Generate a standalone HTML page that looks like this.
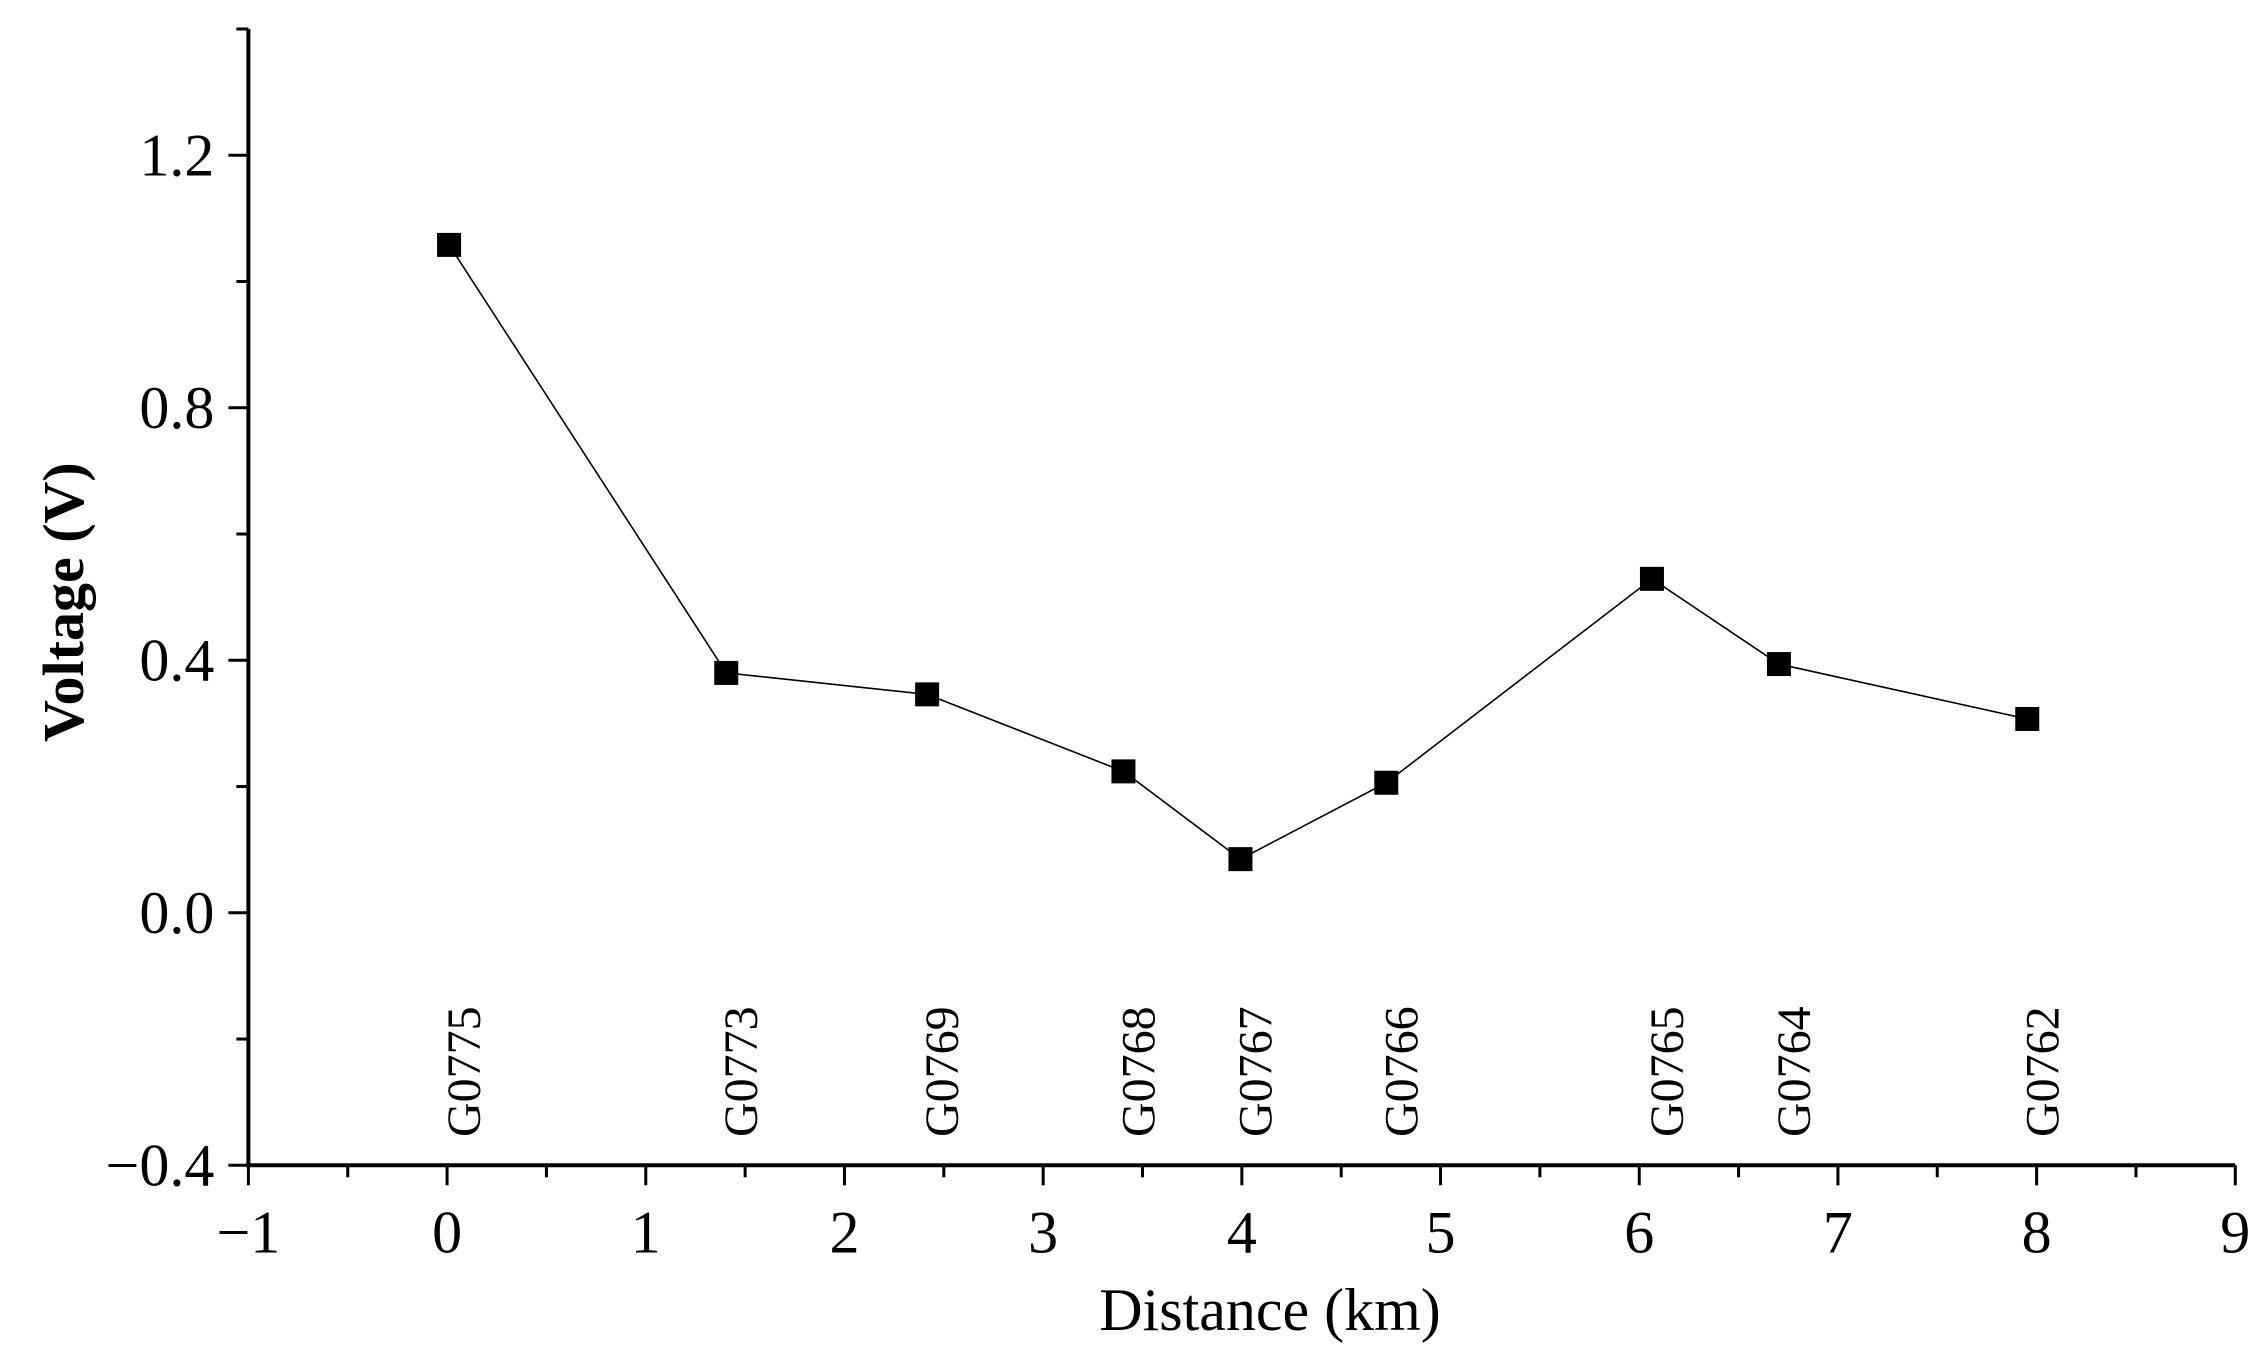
<!DOCTYPE html>
<html><head><meta charset="utf-8"><style>
html,body{margin:0;padding:0;background:#fff}
svg{display:block}
text{font-family:"Liberation Serif",serif;fill:#000}
</style></head><body>
<svg id="chart" width="2264" height="1359" viewBox="0 0 2264 1359" xmlns="http://www.w3.org/2000/svg"></svg>
<script>
const distances = [0.01, 1.405, 2.416, 3.404, 3.993, 4.727, 6.064, 6.703, 7.953];
const voltages = [1.058, 0.380, 0.346, 0.224, 0.085, 0.206, 0.529, 0.394, 0.307];
const stations = ["G0775","G0773","G0769","G0768","G0767","G0766","G0765","G0764","G0762"];
const xTicks = [-1,0,1,2,3,4,5,6,7,8,9];
const yTicks = [-0.4,0.0,0.4,0.8,1.2];
const yTickLabels = ["\u22120.4","0.0","0.4","0.8","1.2"];

const NS="http://www.w3.org/2000/svg";
const svg=document.getElementById('chart');
const X0=248.4, X1=2235.3, Y0=1165.3, YT=29;
const xMin=-1,xMax=9,yMin=-0.4,yMax=1.4;
const sx=v=>X0+(v-xMin)/(xMax-xMin)*(X1-X0);
const sy=v=>Y0-(v-yMin)/(yMax-yMin)*(Y0-YT);
function mk(tag,attrs,parent){const e=document.createElementNS(NS,tag);for(const k in attrs)e.setAttribute(k,attrs[k]);(parent||svg).appendChild(e);return e;}

let e=mk('line',{x1:X0,y1:YT,x2:X0,y2:Y0+2,stroke:'#000','stroke-width':4});


e=mk('line',{x1:X0-2,y1:Y0,x2:X1,y2:Y0,stroke:'#000','stroke-width':4});



for(let v=xMin;v<=xMax+1e-9;v+=0.5){
  const major=Math.abs(v-Math.round(v))<1e-9;
  e=mk('line',{x1:sx(v),y1:Y0,x2:sx(v),y2:Y0+(major?20:12),stroke:'#000','stroke-width':3});
  
  
}
xTicks.forEach(v=>{
  e=mk('text',{x:sx(v),y:Y0+87,'font-size':60,'text-anchor':'middle'});
  e.textContent=v<0?'\u2212'+Math.abs(v):String(v);
  
  
});
for(let v=yMin;v<=yMax+1e-9;v+=0.2){
  const major=Math.abs((v-yMin)/0.4-Math.round((v-yMin)/0.4))<1e-6;
  e=mk('line',{x1:X0,y1:sy(v),x2:X0-(major?20:12),y2:sy(v),stroke:'#000','stroke-width':3});
  
  
}
yTicks.forEach((v,i)=>{
  e=mk('text',{x:X0-34,y:sy(v)+20,'font-size':60,'text-anchor':'end'});
  e.textContent=yTickLabels[i];
  
  
});
e=mk('text',{x:1270,y:1330,'font-size':60,'text-anchor':'middle'});
e.textContent='Distance (km)';


e=mk('text',{x:0,y:0,'font-size':58,'font-weight':'bold','text-anchor':'middle',transform:`translate(83,${sy(0.5)+5}) rotate(-90)`});
e.textContent='Voltage (V)';



e=mk('polyline',{points:distances.map((d,i)=>sx(d)+','+sy(voltages[i])).join(' '),fill:'none',stroke:'#000','stroke-width':1.6});


distances.forEach((d,i)=>{
  const m=mk('rect',{x:sx(d)-12,y:sy(voltages[i])-12,width:24,height:24,fill:'#000'});
  
  
  const t=mk('text',{x:0,y:0,'font-size':48,transform:`translate(${sx(d)+31},1137) rotate(-90)`});
  t.textContent=stations[i];
  
  
});
</script>
</body></html>
